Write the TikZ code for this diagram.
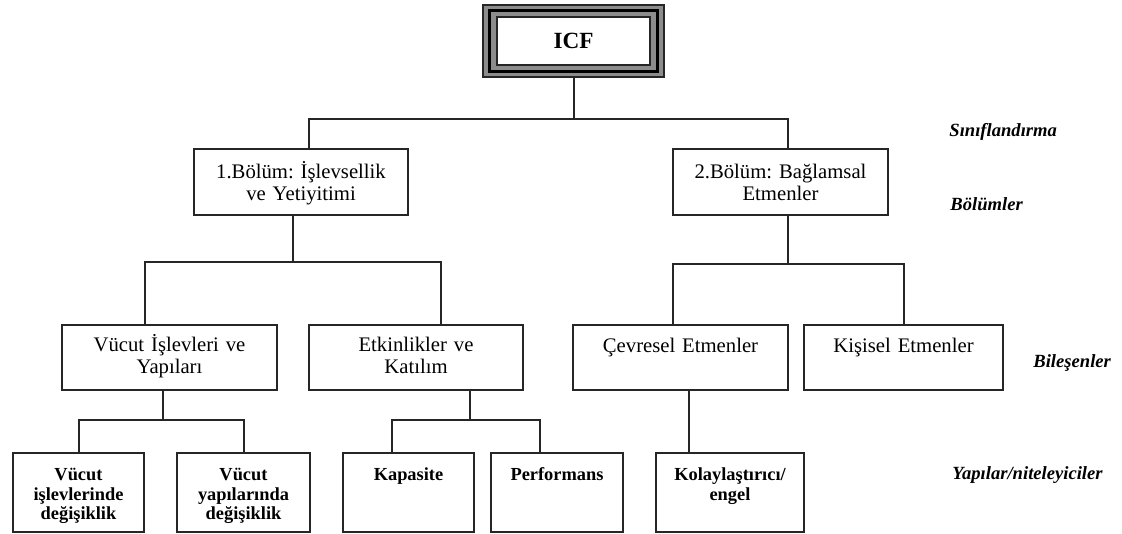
\documentclass[tikz,border=0pt]{standalone}
\usepackage{fontspec}
\setmainfont{Liberation Serif}
\usetikzlibrary{fit, backgrounds}
\frenchspacing
\tikzset{
	every node/.style={
		align=center,
	},
}
\tikzstyle{kutu} = [draw=black!85, line width=1pt, anchor=north, inner xsep=0pt, inner ysep=0pt, font=\fontsize{10.35}{11}\selectfont]
\tikzstyle{bolum} = [kutu, text height=14.5pt, text depth=18.5pt]
\tikzstyle{bilesen} = [kutu, text height=13.7pt, text depth=18.8pt]
\tikzstyle{nitelik} = [kutu, text height=13.8pt, text depth=25.7pt, font=\bfseries\fontsize{9.2}{9.8}\selectfont]
\tikzstyle{seviye} = [anchor=base west, inner sep=0pt, font=\bfseries\itshape\fontsize{9.3}{11}\selectfont]
\tikzstyle{baglanti} = [draw=black!85, line width=1pt]

\begin{document}
\begin{tikzpicture}[x=0.5pt, y=-0.5pt]
    \useasboundingbox (0,0) rectangle (1122,534);

    % ust kutu
    \node (icf) [draw=black!85, line width=1pt, fill=white, minimum width=76.5pt, minimum height=24pt, inner sep=0pt, font=\bfseries\fontsize{11.6}{13}\selectfont] at (573.5,41) {ICF};
    \begin{scope}[on background layer]
        \node (icfdis) [fit=(icf), inner xsep=6.5pt, inner ysep=5.5pt, draw=black!85, line width=1pt, fill=black!45] {};
        \node (icforta) [fit=(icf), inner xsep=3.2pt, inner ysep=2.8pt, draw=black, line width=1.8pt] {};
    \end{scope}

    % bolumler
    \node (b1) [bolum, text width=107pt] at (301,148) {1.Bölüm: İşlevsellik\\ve Yetiyitimi};
    \node (b2) [bolum, text width=107.5pt] at (780.5,148) {2.Bölüm: Bağlamsal\\Etmenler};

    % bilesenler
    \node (c1) [bilesen, text width=107.5pt] at (169.5,323.5) {Vücut İşlevleri ve\\Yapıları};
    \node (c2) [bilesen, text width=107pt] at (416,323.5) {Etkinlikler ve\\Katılım};
    \node (c3) [bilesen, text width=107.5pt] at (680.5,324) {Çevresel Etmenler};
    \node (c4) [bilesen, text width=99.5pt] at (903.5,324) {Kişisel Etmenler};

    % yapilar / niteleyiciler
    \node (d1) [nitelik, text width=65.5pt] at (78.5,452) {Vücut\\işlevlerinde\\değişiklik};
    \node (d2) [nitelik, text width=66.5pt] at (243.5,452) {Vücut\\yapılarında\\değişiklik};
    \node (d3) [nitelik, text width=65.5pt] at (408.5,452) {Kapasite};
    \node (d4) [nitelik, text width=66pt] at (557,452) {Performans};
    \node (d5) [nitelik, text width=74pt] at (730,452) {Kolaylaştırıcı/\\engel};

    % seviye adlari
    \node (s1) [seviye] at (949,137) {Sınıflandırma};
    \node (s2) [seviye] at (950,211) {Bölümler};
    \node (s3) [seviye] at (1033,367) {Bileşenler};
    \node (s4) [seviye] at (952,479) {Yapılar/niteleyiciler};

    % baglantilar
    \draw[baglanti] (icfdis.south) -- ++(0,41) coordinate (k1);
    \draw[baglanti] ([xshift=4pt] b1.north) |- (k1) -| ([xshift=3.75pt] b2.north);

    \draw[baglanti] ([xshift=-4pt] b1.south) -- ++(0,46) coordinate (k2);
    \draw[baglanti] ([xshift=-12.25pt] c1.north) |- (k2) -| ([xshift=12.5pt] c2.north);

    \draw[baglanti] ([xshift=3.75pt] b2.south) -- ++(0,48) coordinate (k3);
    \draw[baglanti] ([xshift=-3.75pt] c3.north) |- (k3) -| (c4.north);

    \draw[baglanti] ([xshift=-3.25pt] c1.south) -- ++(0,29) coordinate (k4);
    \draw[baglanti] (d1.north) |- (k4) -| (d2.north);

    \draw[baglanti] ([xshift=27pt] c2.south) -- ++(0,29) coordinate (k5);
    \draw[baglanti] ([xshift=-8.25pt] d3.north) |- (k5) -| ([xshift=-8.5pt] d4.north);

    \draw[baglanti] ([xshift=4.25pt] c3.south) -- ([xshift=-20.5pt] d5.north);
\end{tikzpicture}
\end{document}
